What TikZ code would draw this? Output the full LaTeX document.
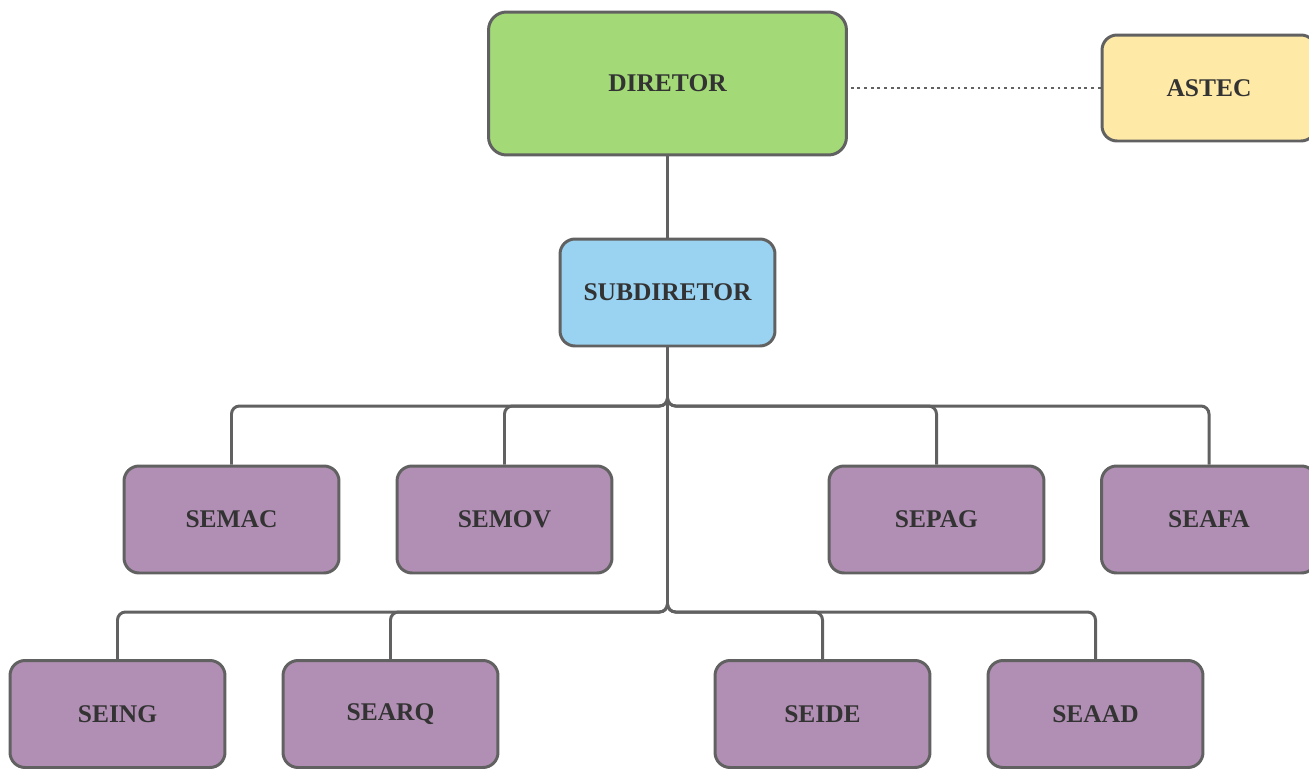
\documentclass[tikz,border=0pt]{standalone}
\usepackage{fontspec}
\setmainfont{Liberation Serif}
\usetikzlibrary{positioning}

\definecolor{dirgreen}{HTML}{A3D977}
\definecolor{subblue}{HTML}{9AD2F2}
\definecolor{astyellow}{HTML}{FFE9A6}
\definecolor{secpurple}{HTML}{B18FB4}
\definecolor{edgegray}{HTML}{616161}
\definecolor{txtgray}{HTML}{333333}

\begin{document}
\begin{tikzpicture}[x=0.02cm, y=-0.02cm]
  % Settings
  \tikzset{
    box/.style={draw=edgegray, line width=1.7pt, rounded corners=0.3cm, align=center, text=txtgray, font=\fontsize{14.5}{17}\selectfont\bfseries},
    dir/.style={box, fill=dirgreen, minimum width=7.16cm, minimum height=2.86cm, rounded corners=0.36cm},
    sub/.style={box, fill=subblue, minimum width=4.3cm, minimum height=2.14cm},
    ast/.style={box, fill=astyellow, minimum width=4.28cm, minimum height=2.12cm},
    sec/.style={box, fill=secpurple, minimum width=4.3cm, minimum height=2.14cm},
    conn/.style={draw=edgegray, line width=1.7pt, rounded corners=0.16cm},
    aux/.style={draw=edgegray, line width=1.6pt, dash pattern=on 1.6pt off 2.2pt},
  }
  \useasboundingbox (0,0) rectangle (1309,768);
  % Top
  \node[dir] (diretor) at (667.5,83.5) {DIRETOR};
  \node[ast] (astec) at (1209,88) {ASTEC};
  \node[sub] (subdiretor) at (667.5,292.5) {SUBDIRETOR};
  % Sections
  \node[sec] (semac) at (231.5,519.5) {SEMAC};
  \node[sec] (semov) at (504.5,519.5) {SEMOV};
  \node[sec] (sepag) at (936.5,519.5) {SEPAG};
  \node[sec] (seafa) at (1209,519.5) {SEAFA};
  \node[sec] (seing) at (117.5,714) {SEING};
  \node[sec] (searq) at (390.5,714) {SEARQ};
  \node[sec] (seide) at (822.5,714) {SEIDE};
  \node[sec] (seaad) at (1095.5,714) {SEAAD};
  % Lines
  \coordinate (bus1) at (667.5,406);
  \coordinate (bus2) at (667.5,612);
  \draw[aux] (astec.west) -- (astec.west -| diretor.east);
  \draw[conn] (diretor) -- (subdiretor);
  \foreach \n in {semac,semov,sepag,seafa} {\draw[conn] (subdiretor.south) |- (\n.north |- bus1) -- (\n.north);}
  \foreach \n in {seing,searq,seide,seaad} {\draw[conn] (subdiretor.south) |- (\n.north |- bus2) -- (\n.north);}
\end{tikzpicture}
\end{document}
